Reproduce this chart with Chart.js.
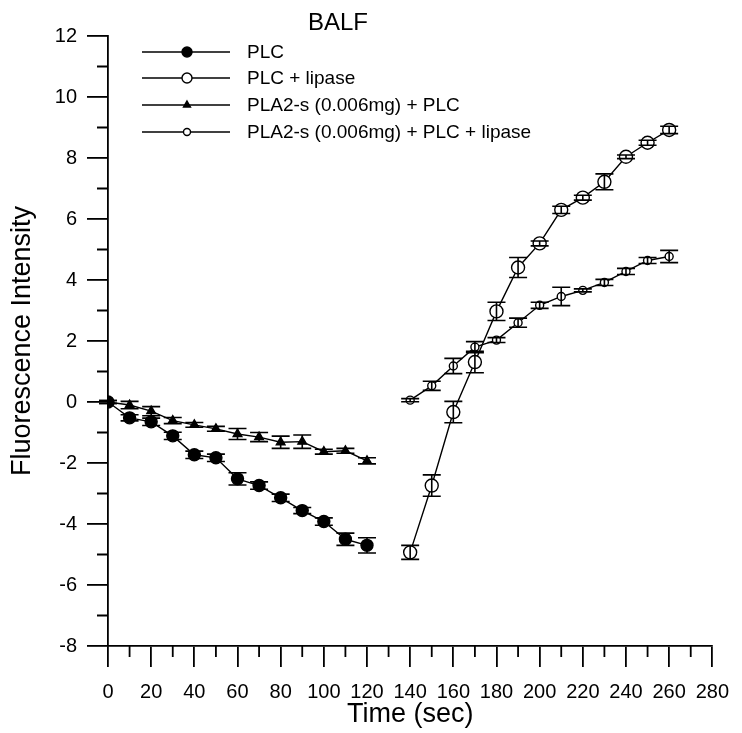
<!DOCTYPE html>
<html>
<head>
<meta charset="utf-8">
<script src="https://cdn.jsdelivr.net/npm/chart.js@4.4.1/dist/chart.umd.min.js"></script>
<style>
  html, body { margin: 0; padding: 0; background: #fff; }
  #wrap { width: 742px; height: 733px; }
</style>
</head>
<body>
<div id="wrap"><canvas id="balfChart" width="742" height="733"></canvas></div>
<script>
// time points (sec)
const timeEarly = [0, 10, 20, 30, 40, 50, 60, 70, 80, 90, 100, 110, 120];
const timeLate = [140, 150, 160, 170, 180, 190, 200, 210, 220, 230, 240, 250, 260];

// PLC
const plc = [0, -0.52, -0.65, -1.11, -1.73, -1.83, -2.52, -2.74, -3.14, -3.56, -3.92, -4.5, -4.7];
const plcErr = [0.05, 0.1, 0.12, 0.12, 0.12, 0.12, 0.2, 0.12, 0.12, 0.1, 0.12, 0.2, 0.25];

// PLC + lipase
const plcLipase = [-4.93, -2.74, -0.33, 1.31, 2.97, 4.41, 5.2, 6.3, 6.7, 7.22, 8.04, 8.5, 8.92];
const plcLipaseErr = [0.23, 0.35, 0.35, 0.35, 0.3, 0.33, 0.08, 0.12, 0.08, 0.26, 0.06, 0.08, 0.12];

// PLA2-s (0.006mg) + PLC
const plaPlc = [0, -0.1, -0.3, -0.61, -0.75, -0.88, -1.05, -1.15, -1.32, -1.3, -1.63, -1.6, -1.93];
const plaPlcErr = [0.05, 0.12, 0.15, 0.1, 0.08, 0.08, 0.18, 0.15, 0.2, 0.22, 0.08, 0.08, 0.1];

// PLA2-s (0.006mg) + PLC + lipase
const plaPlcLipase = [0.06, 0.53, 1.18, 1.8, 2.03, 2.6, 3.17, 3.46, 3.66, 3.92, 4.28, 4.64, 4.77];
const plaPlcLipaseErr = [0.05, 0.15, 0.25, 0.18, 0.08, 0.15, 0.1, 0.3, 0.05, 0.1, 0.1, 0.1, 0.2];

const seriesNames = ['PLC', 'PLC + lipase', 'PLA2-s (0.006mg) + PLC', 'PLA2-s (0.006mg) + PLC + lipase'];

const FONT = '"Liberation Sans", Arial, Helvetica, sans-serif';

function toPoints(xs, ys) {
  return xs.map((x, i) => ({ x: x, y: ys[i] }));
}

function makeSet(label, xs, ys, errs, style, radius, fill, legendRadius) {
  return {
    label: label,
    data: toPoints(xs, ys),
    errors: errs,
    borderColor: '#000',
    borderWidth: 1.4,
    pointStyle: style,
    pointRadius: radius,
    pointBorderWidth: 1.4,
    pointBorderColor: '#000',
    pointBackgroundColor: fill,
    legendRadius: legendRadius,
    tension: 0,
    fill: false
  };
}

// error bars, drawn through the scales
const errorBars = {
  id: 'errorBars',
  afterDatasetsDraw(chart) {
    const ctx = chart.ctx;
    const xs = chart.scales.x, ys = chart.scales.y;
    ctx.save();
    ctx.strokeStyle = '#000';
    ctx.lineWidth = 1.6;
    chart.data.datasets.forEach(ds => {
      ds.data.forEach((p, i) => {
        const e = ds.errors[i];
        const px = xs.getPixelForValue(p.x);
        const top = ys.getPixelForValue(p.y + e);
        const bot = ys.getPixelForValue(p.y - e);
        ctx.beginPath();
        ctx.moveTo(px, top); ctx.lineTo(px, bot);
        ctx.moveTo(px - 9, top); ctx.lineTo(px + 9, top);
        ctx.moveTo(px - 9, bot); ctx.lineTo(px + 9, bot);
        ctx.stroke();
      });
    });
    ctx.restore();
  }
};

// minor ticks, title and legend
const decorations = {
  id: 'decorations',
  afterDraw(chart) {
    const ctx = chart.ctx;
    const xs = chart.scales.x, ys = chart.scales.y;
    const area = chart.chartArea;
    ctx.save();
    ctx.strokeStyle = '#000';
    ctx.lineWidth = 1.8;
    ctx.beginPath();
    for (let v = 10; v < 280; v += 20) {
      const px = xs.getPixelForValue(v);
      ctx.moveTo(px, area.bottom); ctx.lineTo(px, area.bottom + 11);
    }
    for (let v = -7; v < 12; v += 2) {
      const py = ys.getPixelForValue(v);
      ctx.moveTo(area.left, py); ctx.lineTo(area.left - 11, py);
    }
    ctx.stroke();

    ctx.fillStyle = '#000';
    ctx.font = '24px ' + FONT;
    ctx.textAlign = 'center';
    ctx.textBaseline = 'middle';
    ctx.fillText('BALF', 338, 23);

    const rows = [52, 78, 105, 132];
    ctx.font = '19px ' + FONT;
    ctx.textAlign = 'left';
    chart.data.datasets.forEach((ds, i) => {
      const y = rows[i];
      ctx.lineWidth = 1.4;
      ctx.strokeStyle = '#000';
      ctx.beginPath();
      ctx.moveTo(142, y); ctx.lineTo(230, y);
      ctx.stroke();
      ctx.fillStyle = ds.pointBackgroundColor;
      Chart.helpers.drawPoint(ctx, {
        pointStyle: ds.pointStyle, radius: ds.legendRadius, rotation: 0, borderWidth: 1.4
      }, 187, y);
      ctx.fillStyle = '#000';
      ctx.fillText(ds.label, 247, y + 1);
    });
    ctx.restore();
  }
};

new Chart(document.getElementById('balfChart').getContext('2d'), {
  type: 'line',
  data: {
    datasets: [
      makeSet(seriesNames[0], timeEarly, plc, plcErr, 'circle', 6, '#000', 5),
      makeSet(seriesNames[1], timeLate, plcLipase, plcLipaseErr, 'circle', 6.5, '#fff', 5),
      makeSet(seriesNames[2], timeEarly, plaPlc, plaPlcErr, 'triangle', 5, '#000', 4),
      makeSet(seriesNames[3], timeLate, plaPlcLipase, plaPlcLipaseErr, 'circle', 4, '#fff', 3.5)
    ]
  },
  options: {
    responsive: false,
    animation: false,
    layout: { padding: { left: 0, top: 36, right: 25, bottom: 0 } },
    plugins: {
      legend: { display: false },
      title: { display: false },
      tooltip: { enabled: false }
    },
    scales: {
      x: {
        type: 'linear',
        min: 0,
        max: 280,
        afterFit(scale) { scale.height = 87; },
        ticks: {
          stepSize: 20,
          autoSkip: false,
          maxRotation: 0,
          color: '#000',
          padding: 13,
          font: { family: FONT, size: 20 }
        },
        grid: { drawOnChartArea: false, drawTicks: true, tickLength: 21, color: '#000', lineWidth: 1.8 },
        border: { display: true, color: '#000', width: 1.8 },
        title: {
          display: true,
          text: 'Time (sec)',
          color: '#000',
          font: { family: FONT, size: 27 },
          padding: { top: 0, bottom: 2 }
        }
      },
      y: {
        type: 'linear',
        min: -8,
        max: 12,
        afterFit(scale) { scale.width = 108; },
        ticks: {
          stepSize: 2,
          color: '#000',
          padding: 10,
          font: { family: FONT, size: 20 }
        },
        grid: { drawOnChartArea: false, drawTicks: true, tickLength: 21, color: '#000', lineWidth: 1.8 },
        border: { display: true, color: '#000', width: 1.8 },
        title: {
          display: true,
          text: 'Fluorescence Intensity',
          color: '#000',
          font: { family: FONT, size: 27 },
          padding: { top: 6, bottom: 0 }
        }
      }
    }
  },
  plugins: [errorBars, decorations]
});
</script>
</body>
</html>
